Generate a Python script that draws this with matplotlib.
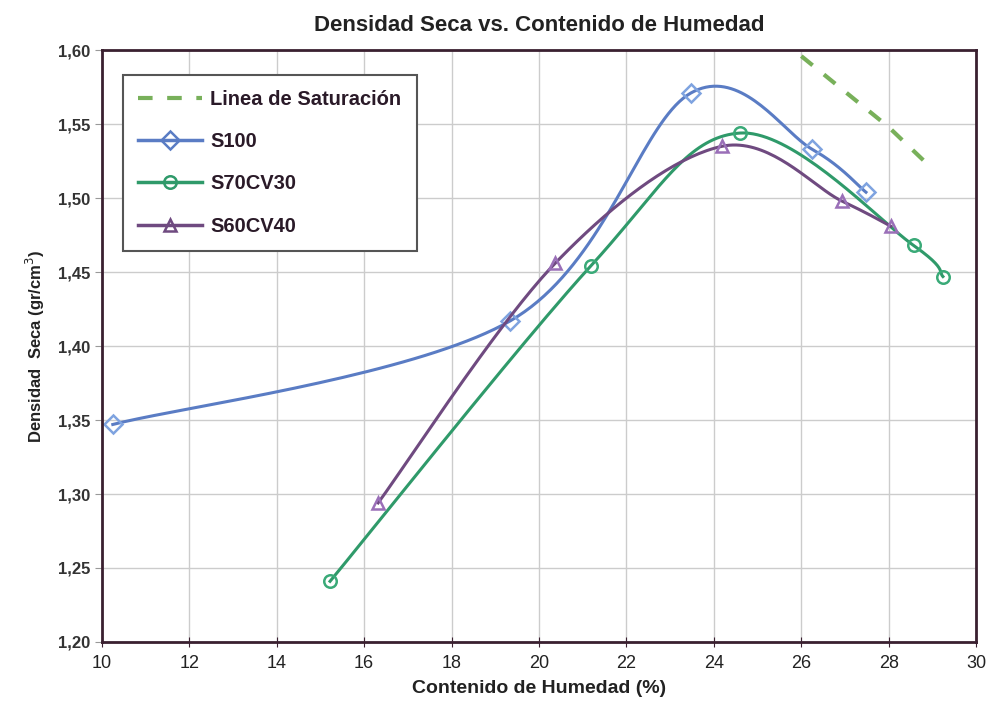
import numpy as np
import matplotlib.pyplot as plt
from matplotlib.ticker import FuncFormatter

# datos
sat_x = [26.0, 27.0, 28.0, 28.85]
sat_y = [1.596, 1.572, 1.548, 1.524]

s100_x = [10.25, 19.34, 23.47, 26.25, 27.48]
s100_y = [1.347, 1.417, 1.571, 1.533, 1.504]

s70_x = [15.22, 21.18, 24.60, 28.57, 29.24]
s70_y = [1.241, 1.454, 1.544, 1.468, 1.447]

s60_x = [16.32, 20.37, 24.18, 26.93, 28.05]
s60_y = [1.294, 1.456, 1.535, 1.498, 1.481]


def suave(x, y, n=40):
    # curva suavizada tipo Excel (Catmull-Rom con Bezier)
    x = np.asarray(x, float)
    y = np.asarray(y, float)
    p = np.column_stack([x, y])
    out = []
    t = np.linspace(0, 1, n)[:, None]
    for i in range(len(p) - 1):
        p0 = p[i - 1] if i > 0 else p[i]
        p1 = p[i]
        p2 = p[i + 1]
        p3 = p[i + 2] if i + 2 < len(p) else p[i + 1]
        c1 = p1 + (p2 - p0) / 6.0
        c2 = p2 - (p3 - p1) / 6.0
        seg = ((1 - t) ** 3) * p1 + 3 * ((1 - t) ** 2) * t * c1 + 3 * (1 - t) * t ** 2 * c2 + t ** 3 * p2
        out.append(seg)
    c = np.vstack(out)
    return c[:, 0], c[:, 1]


fuente = ['Liberation Sans Narrow', 'Liberation Sans', 'DejaVu Sans']
fuente2 = ['Liberation Sans', 'DejaVu Sans']
oscuro = '#3a2030'

fig = plt.figure(figsize=(9.89, 7.07), dpi=100)
ax = fig.add_axes([0.103, 0.092, 0.884, 0.837])

ax.set_xlim(10, 30)
ax.set_ylim(1.20, 1.60)
ax.set_xticks(np.arange(10, 31, 2))
ax.set_yticks(np.arange(1.20, 1.601, 0.05))
ax.yaxis.set_major_formatter(FuncFormatter(lambda v, p: ('%.2f' % v).replace('.', ',')))
ax.grid(True, color='#cccccc', lw=1.0)
ax.set_axisbelow(True)

# linea de saturacion
ax.plot(sat_x, sat_y, color='#78b05a', lw=3, ls=(0, (3.5, 3.5)), label='Linea de Saturación')

series = [
    (s100_x, s100_y, '#5a7cc4', '#7fa3e0', 'D', 'S100'),
    (s70_x, s70_y, '#2f9a6a', '#3aaa78', 'o', 'S70CV30'),
    (s60_x, s60_y, '#6f4a80', '#9a6fb8', '^', 'S60CV40'),
]
for xs, ys, col, mcol, mk, nom in series:
    cx, cy = suave(xs, ys)
    ax.plot(cx, cy, color=col, lw=2.2)
    ax.plot(xs, ys, ls='none', marker=mk, ms=9, mfc='none', mec=mcol, mew=1.8)
    ax.plot([], [], color=col, lw=2.5, marker=mk, ms=9, mfc='none', mec=col, mew=1.8, label=nom)

for s in ax.spines.values():
    s.set_color(oscuro)
    s.set_linewidth(2)

ax.tick_params(axis='x', direction='inout', length=7, color=oscuro, labelsize=13, colors='#222222', pad=6)
ax.tick_params(axis='y', direction='out', length=5, color='#999999', labelsize=12, colors='#222222')
for lab in ax.get_xticklabels():
    lab.set_family(fuente)
for lab in ax.get_yticklabels():
    lab.set_family(fuente2)
    lab.set_fontweight('bold')
    lab.set_color('#333333')

ax.set_title('Densidad Seca vs. Contenido de Humedad', fontsize=16, fontweight='bold',
             family=fuente2, color='#222222', pad=14)
ax.set_xlabel('Contenido de Humedad (%)', fontsize=14, fontweight='bold', family=fuente2,
              color='#222222', labelpad=6)
ax.set_ylabel('Densidad  Seca (gr/cm$^3$)', fontsize=12, fontweight='bold', family=fuente2,
              color='#222222', labelpad=8)

leg = ax.legend(loc='upper left', bbox_to_anchor=(0.024, 0.958), borderaxespad=0,
                fancybox=False, framealpha=1,
                edgecolor='#555555', labelspacing=1.15, handlelength=3.2, borderpad=0.75,
                handletextpad=0.4,
                prop={'family': fuente2, 'weight': 'bold', 'size': 14.5})
leg.get_frame().set_linewidth(1.5)
for t in leg.get_texts():
    t.set_color('#2a1a28')

fig.savefig('out.png', dpi=100)
